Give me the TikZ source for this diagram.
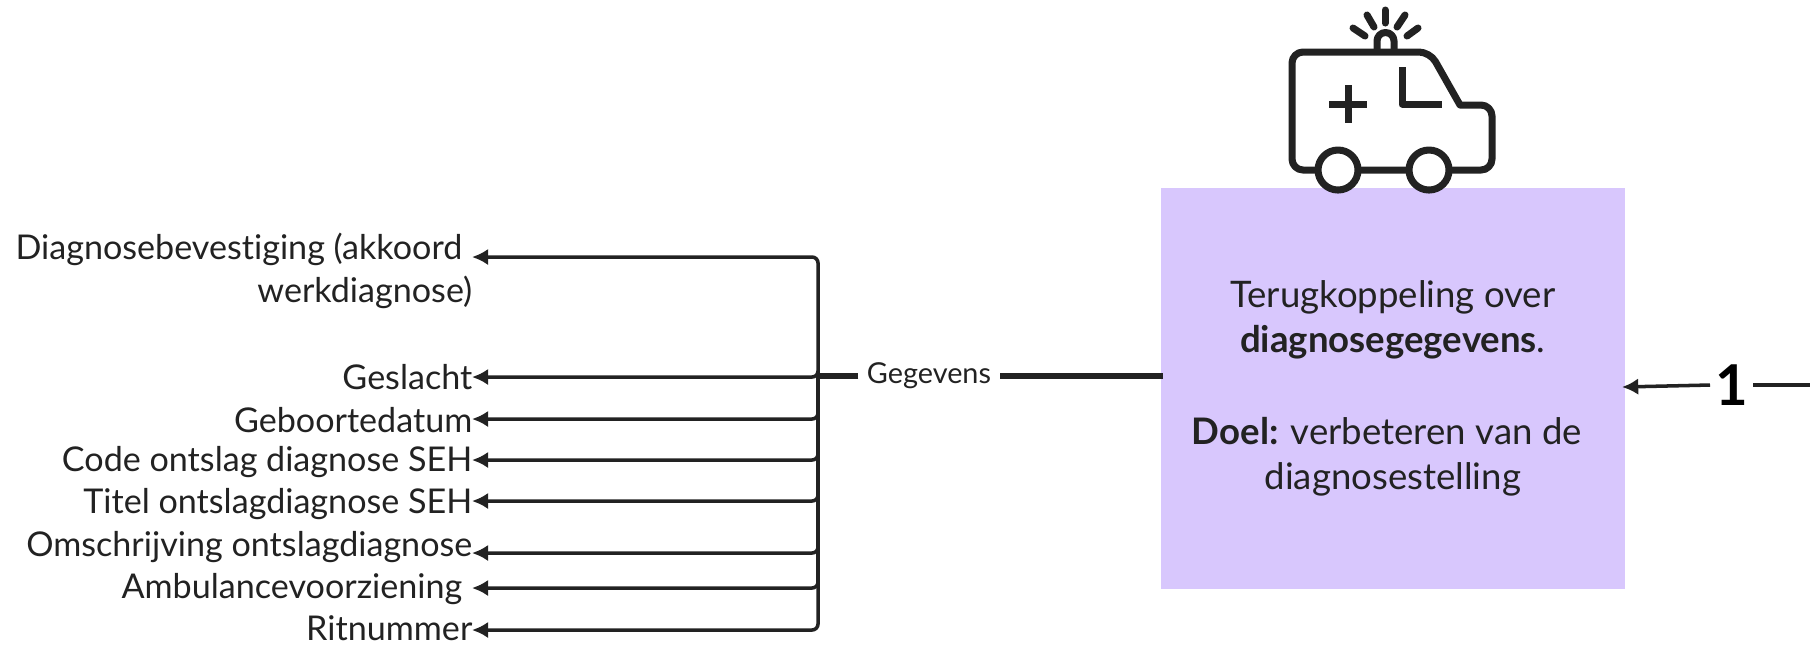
\documentclass[tikz,border=0pt]{standalone}
\usepackage{fontspec}
\setmainfont[Ligatures=NoCommon]{Lato}
\usetikzlibrary{arrows.meta}
\definecolor{boxpurple}{HTML}{D8C7FD}
\definecolor{inkdark}{HTML}{222222}
\tikzset{
  datalabel/.style={anchor=east, inner sep=0pt, font=\fontsize{9.7pt}{13pt}\selectfont, text=inkdark},
  feed/.style={draw=inkdark, line width=1pt, -{Latex[length=4.6pt,width=4.7pt]}, rounded corners=1.7pt},
  mainline/.style={draw=inkdark, line width=1.8pt},
  icon/.style={draw=inkdark, line width=2pt, line join=round}
}
\begin{document}
\begin{tikzpicture}[x=0.01cm, y=-0.01cm]
    \useasboundingbox (0,0) rectangle (1810,644);

    % box
    \node[fill=boxpurple, minimum width=4.64cm, minimum height=4.01cm, inner sep=0pt, anchor=north west,
      align=center, text=inkdark, font=\fontsize{10.4pt}{13pt}\selectfont] (box) at (1160,187)
      {Terugkoppeling over\\ \textbf{diagnosegegevens}.\\[13pt] \textbf{Doel:} verbeteren van de\rule{0.12cm}{0pt}\\ diagnosestelling};

    % labels
    \node[datalabel] (bevestiging) at (463,249) {Diagnosebevestiging (akkoord};
    \node[datalabel] (werk) at (473,292) {werkdiagnose)};
    \node[datalabel] (geslacht) at (473,377) {Geslacht};
    \node[datalabel] (geboorte) at (473,420) {Geboortedatum};
    \node[datalabel] (code) at (473,462) {Code ontslag diagnose SEH};
    \node[datalabel] (titel) at (473,504) {Titel ontslagdiagnose SEH};
    \node[datalabel] (omschrijving) at (473,547) {Omschrijving ontslagdiagnose};
    \node[datalabel] (ambulance) at (463,589) {Ambulancevoorziening};
    \node[datalabel] (rit) at (473,628) {Ritnummer};

    \node[inner ysep=0pt, inner xsep=0.08cm, text=inkdark, font=\fontsize{8.2pt}{10pt}\selectfont] (gegevens) at (929,376) {Gegevens};
    \coordinate (trunk) at (818,376);
    \coordinate (trunkend) at (818,588);

    % connectors
    \draw[mainline] ([xshift=0.03cm]box.west |- gegevens) -- (gegevens.east);
    \draw[mainline] (gegevens.west) -- (trunk);
    \draw[draw=inkdark, line width=1.35pt] (trunk) -- (trunkend);
    \foreach \ypos/\tipname in {257/a,377/b,419/c,460/d,501/e,553/f,588/g,630/h} {
      \coordinate (tip\tipname) at (472,\ypos);
      \draw[feed] (trunk) |- (tip\tipname);
    }

    % number
    \node[inner sep=0pt, font=\fontsize{16pt}{16pt}\selectfont\bfseries] (one) at (1732,385) {1};
    \coordinate (edge) at (1810,385);
    \coordinate (boxtip) at (1622,387);
    \draw[feed] (one.west) ++(-5,0) -- (boxtip);
    \draw[draw=inkdark, line width=1pt] (one.east) ++(4,0) -- (edge);

    % ambulance
    \draw[icon, line cap=round, rounded corners=0.11cm] (1460,105) -- (1492,105) -- (1492,170) -- (1292,170) -- (1292,52)
      -- (1430,52) -- (1460,105);
    \draw[icon, fill=white] (1338,170) circle[radius=20];
    \draw[icon, fill=white] (1429,170) circle[radius=20];
    \draw[icon] (1348,85) -- (1348,123);
    \draw[icon] (1329,104) -- (1367,104);
    \draw[icon] (1402,67) -- (1402,104) -- (1442,104);
    \draw[icon] (1377,52) -- (1377,41) arc[start angle=180, end angle=360, radius=8.5] -- (1394,52);
    \foreach \xa/\ya/\xb/\yb in {1385/10/1385/23, 1367/15/1374/27, 1405/15/1397/27, 1353/28/1365/36, 1418/28/1407/36} {
      \draw[icon, line cap=round] (\xa,\ya) -- (\xb,\yb);
    }
\end{tikzpicture}
\end{document}
